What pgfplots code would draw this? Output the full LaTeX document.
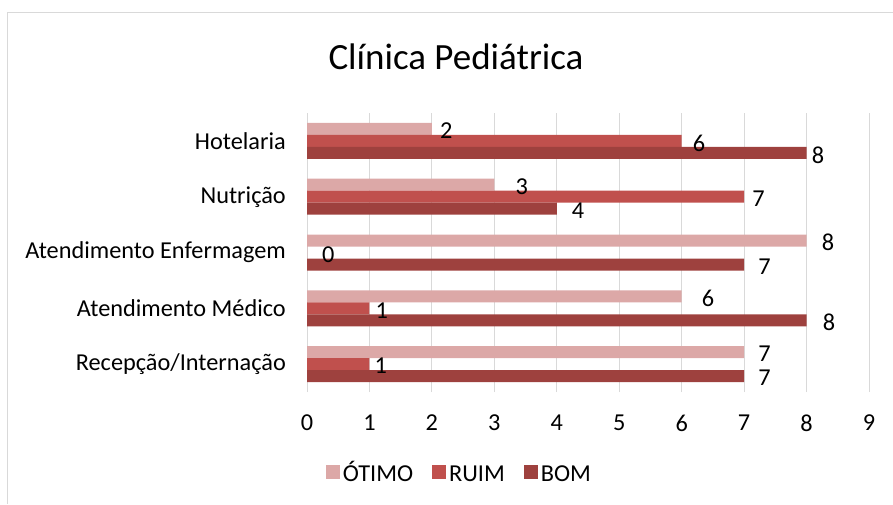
\documentclass[border=0pt]{standalone}
\usepackage{pgfplots}
\usepackage{pgfplotstable}
\pgfplotsset{compat=1.18}
\usepackage{fontspec}
\setmainfont{Carlito}
\definecolor{otimo}{RGB}{220,168,167}
\definecolor{ruim}{RGB}{192,80,77}
\definecolor{bom}{RGB}{158,65,62}
\definecolor{gridgray}{RGB}{217,217,217}

% x = value, y = category, dx = label offset (pt)
\pgfplotstableread{
x y dx
7 0 14
6 1 20
8 2 15
3 3 21
2 4 8
}\otimo
\pgfplotstableread{
x y dx
1 0 5
1 1 6
0 2 15
7 3 8
6 4 11
}\ruim
\pgfplotstableread{
x y dx
7 0 14
8 1 16
7 2 14
4 3 15
8 4 5
}\bom

\begin{document}
\begin{tikzpicture}[x=1pt,y=1pt]
\useasboundingbox (0,0) rectangle (893,504);
\draw[gridgray, line width=1pt] (7,0) -- (7,491) -- (893,491);
\node[font=\fontsize{37}{40}\selectfont] at (456,447) {Clínica Pediátrica};
\begin{axis}[
    at={(307pt,112pt)}, anchor=south west,
    scale only axis, width=562pt, height=279pt,
    xbar, bar width=12pt,
    xmin=0, xmax=9, ymin=-0.5, ymax=4.5,
    xtick={0,...,9}, ytick={0,...,4},
    yticklabels={Recepção/Internação, Atendimento Médico, Atendimento Enfermagem, Nutrição, Hotelaria\ },
    axis line style={draw=none},
    major tick length=0pt,
    xmajorgrids, major grid style={gridgray, line width=1pt},
    /pgf/number format/assume math mode=true,
    tick label style={font=\fontsize{24.3}{26}\selectfont},
    yticklabel style={anchor=east, inner sep=0pt, xshift=-21pt},
    xticklabel style={anchor=north, inner sep=0pt, yshift=-23pt},
    nodes near coords,
    visualization depends on={\thisrow{dx} \as \dx},
    nodes near coords style={font=\fontsize{24.3}{26}\selectfont, anchor=west, inner sep=0pt,
        xshift=\dx pt, yshift=-2pt, /pgf/number format/assume math mode=true},
    legend style={at={(0.272,-0.297)}, anchor=center, draw=none,
        font=\fontsize{24.3}{26}\selectfont, legend columns=-1,
        nodes={inner xsep=3pt, inner ysep=0pt, text height=17pt, text depth=4pt},
        /tikz/every even column/.append style={column sep=16pt}},
    legend image code/.code={\fill[#1] (0pt,-4pt) rectangle (14pt,10pt);},
]
\addplot[fill=otimo, draw=none, bar shift=12pt] table[x=x, y=y] {\otimo};
\addplot[fill=ruim, draw=none, bar shift=0pt] table[x=x, y=y] {\ruim};
\addplot[fill=bom, draw=none, bar shift=-12pt] table[x=x, y=y] {\bom};
\legend{ÓTIMO, RUIM, BOM}
\end{axis}
\end{tikzpicture}
\end{document}
